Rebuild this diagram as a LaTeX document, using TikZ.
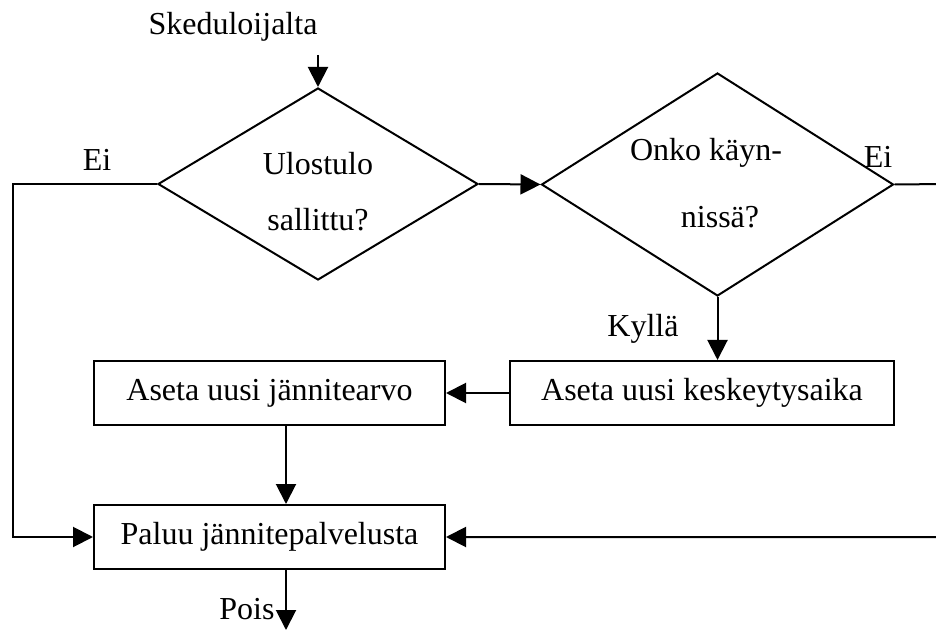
\documentclass[tikz,border=0pt]{standalone}
\usepackage{fontspec}
\setmainfont{Liberation Serif}
\usetikzlibrary{arrows.meta,shapes.geometric}
\begin{document}
\begin{tikzpicture}[x=0.5pt,y=-0.5pt,
  every node/.style={font=\fontsize{16}{19}\selectfont},
  dia/.style={draw,line width=1pt,diamond,inner sep=0pt},
  boxn/.style={draw,line width=1pt,rectangle,inner sep=0pt,minimum height=32pt},
  lbl/.style={inner sep=0pt},
  conn/.style={line width=1pt},
  arr/.style={conn,-{Triangle[length=10pt,width=10pt]}}]
\useasboundingbox (0,0) rectangle (936,630);
% diamonds
\node[dia,minimum width=160pt,minimum height=96pt] (d1) at (318,184) {};
\node[dia,minimum width=176pt,minimum height=111.5pt] (d2) at (717.5,184.5) {};
% boxes
\node[boxn,minimum width=175.5pt] (b1) at (269.5,393) {Aseta uusi jännitearvo};
\node[boxn,minimum width=192pt] (b2) at (702,393) {Aseta uusi keskeytysaika};
\node[boxn,minimum width=175.5pt] (b3) at (269.5,537) {Paluu jännitepalvelusta};
% texts
\node[lbl] (t0) at (233,27) {Skeduloijalta};
\node[lbl] (t1) at (318,164) {Ulostulo};
\node[lbl] (t2) at (318,220) {sallittu?};
\node[lbl] (t3) at (706,153) {Onko käyn-};
\node[lbl] (t4) at (720,217) {nissä?};
\node[lbl] (e1) at (97,160) {Ei};
\node[lbl] (e2) at (878,157) {Ei};
\node[lbl] (ky) at (643,329) {Kyllä};
\node[lbl] (po) at (247,609) {Pois};
% coordinates
\coordinate (ax) at (286,0);
\coordinate (in) at (318,55);
\coordinate (out) at (286,630);
\coordinate (lc1) at (12.5,184);
\coordinate (lc2) at (12.5,537);
\coordinate (rc1) at (945,184);
\coordinate (rc2) at (945,537);
% connectors
\draw[arr] (in) -- (d1.north);
\draw[arr] (d1.east) -- (d2.west);
\draw[arr] (d2.south) -- (d2.south |- b2.north);
\draw[arr] (b2.west) -- (b1.east);
\draw[arr] (b1.south -| ax) -- (b3.north -| ax);
\draw[arr] (b3.south -| ax) -- (out);
\draw[arr] (d1.west) -- (lc1) -- (lc2) -- (b3.west);
\draw[arr] (d2.east) -- (rc1) -- (rc2) -- (b3.east);
\end{tikzpicture}
\end{document}
